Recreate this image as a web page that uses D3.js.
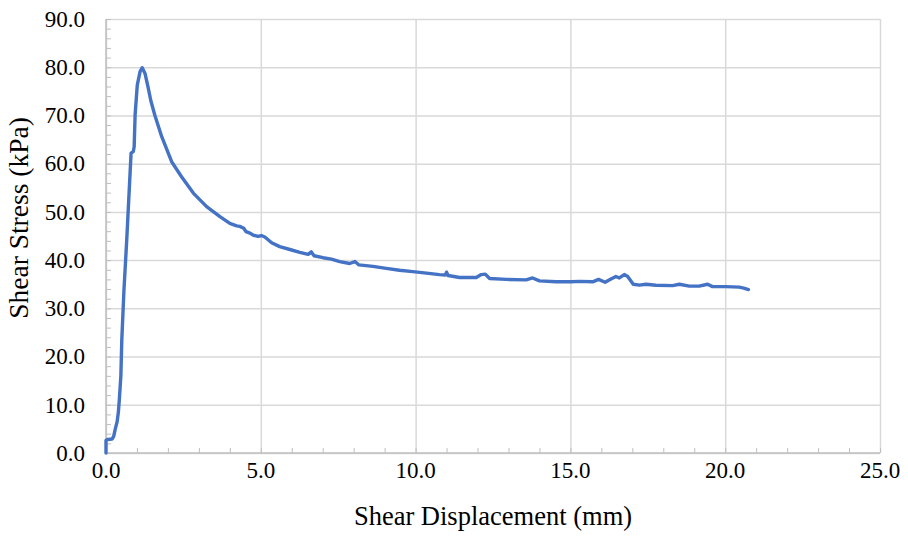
<!DOCTYPE html>
<html>
<head>
<meta charset="utf-8">
<script src="https://cdn.jsdelivr.net/npm/d3@7"></script>
</head>
<body style="margin:0;background:#fff">
<svg id="chart" width="908" height="538" font-family="Liberation Serif"></svg>
<script>
// Direct shear test: shear displacement (mm) vs shear stress (kPa)
const displacement = [
  0.00, 0.00, 0.05, 0.20, 0.25, 0.30, 0.36, 0.40, 0.43, 0.48,
  0.51, 0.58, 0.67, 0.75, 0.81, 0.88, 0.91, 0.94, 1.01, 1.10,
  1.17, 1.26, 1.36, 1.45, 1.58, 1.80, 2.12, 2.44, 2.82, 3.25,
  3.68, 4.00, 4.22, 4.32, 4.45, 4.52, 4.65, 4.75, 4.91, 5.02,
  5.13, 5.35, 5.61, 5.94, 6.26, 6.53, 6.63, 6.72, 7.01, 7.28,
  7.55, 7.87, 8.04, 8.17, 8.62, 9.05, 9.48, 9.91, 10.35, 10.77,
  10.96, 11.00, 11.05, 11.42, 11.96, 12.12, 12.25, 12.39, 12.93, 13.57,
  13.78, 14.00, 14.54, 15.02, 15.30, 15.72, 15.91, 16.12, 16.31, 16.47,
  16.58, 16.74, 16.85, 17.03, 17.23, 17.44, 17.76, 18.30, 18.52, 18.84,
  19.16, 19.43, 19.59, 20.02, 20.45, 20.60, 20.75
];
const shearStress = [
  0.0, 2.6, 2.8, 2.9, 3.5, 5.0, 6.5, 8.5, 11.0, 16.0,
  23.4, 33.8, 44.2, 54.5, 62.2, 62.5, 63.5, 70.1, 76.3, 79.1,
  79.9, 78.7, 75.8, 73.0, 70.0, 65.6, 60.4, 57.3, 53.9, 51.1,
  49.0, 47.6, 47.1, 47.0, 46.6, 45.9, 45.6, 45.2, 44.9, 45.1,
  44.8, 43.6, 42.8, 42.2, 41.6, 41.2, 41.7, 40.9, 40.5, 40.2,
  39.7, 39.3, 39.7, 39.0, 38.7, 38.3, 37.9, 37.6, 37.3, 37.0,
  36.9, 37.5, 36.8, 36.4, 36.4, 37.0, 37.1, 36.2, 36.0, 35.9,
  36.3, 35.7, 35.5, 35.5, 35.6, 35.5, 36.0, 35.4, 36.1, 36.6,
  36.3, 37.0, 36.6, 35.0, 34.8, 35.0, 34.8, 34.7, 35.0, 34.6,
  34.6, 35.0, 34.5, 34.5, 34.4, 34.2, 33.9
];
const xTicks = [0, 5, 10, 15, 20, 25];
const yTicks = [0, 10, 20, 30, 40, 50, 60, 70, 80, 90];
const xTitle = "Shear Displacement (mm)";
const yTitle = "Shear Stress (kPa)";

const FONT = "Liberation Serif";
const fmt = d3.format(".1f");
const svg = d3.select("#chart");
const plotLeft = 106, plotRight = 880, plotTop = 19, plotBottom = 453;

const x = d3.scaleLinear().domain([0, 25]).range([plotLeft, plotRight]);
const y = d3.scaleLinear().domain([0, 90]).range([plotBottom, plotTop]);

// Major gridlines
svg.append("g")
  .attr("transform", `translate(0,${plotBottom})`)
  .call(d3.axisBottom(x).tickValues(xTicks).tickSize(-(plotBottom - plotTop)).tickFormat(""))
  .call(g => g.select(".domain").remove())
  .call(g => g.selectAll("line").attr("stroke", "#d9d9d9").attr("stroke-width", 1.5));
svg.append("g")
  .attr("transform", `translate(${plotLeft},0)`)
  .call(d3.axisLeft(y).tickValues(yTicks).tickSize(-(plotRight - plotLeft)).tickFormat(""))
  .call(g => g.select(".domain").remove())
  .call(g => g.selectAll("line").attr("stroke", "#d9d9d9").attr("stroke-width", 1.5));

// Minor tick marks (inside the plot area)
svg.append("g")
  .attr("transform", `translate(0,${plotBottom})`)
  .call(d3.axisBottom(x).tickValues(d3.range(0, 26, 1)).tickSize(-5).tickFormat(""))
  .call(g => g.select(".domain").remove())
  .call(g => g.selectAll("line").attr("stroke", "#bfbfbf").attr("stroke-width", 1));
svg.append("g")
  .attr("transform", `translate(${plotLeft},0)`)
  .call(d3.axisLeft(y).tickValues(d3.range(0, 91, 2)).tickSize(-5).tickFormat(""))
  .call(g => g.select(".domain").remove())
  .call(g => g.selectAll("line").attr("stroke", "#bfbfbf").attr("stroke-width", 1));

// Axis lines
svg.append("line")
  .attr("x1", plotLeft).attr("x2", plotRight)
  .attr("y1", y(0)).attr("y2", y(0))
  .attr("stroke", "#bfbfbf").attr("stroke-width", 1.5);
svg.append("line")
  .attr("x1", x(0)).attr("x2", x(0))
  .attr("y1", plotTop).attr("y2", plotBottom)
  .attr("stroke", "#bfbfbf").attr("stroke-width", 1.5);

// Tick labels
svg.append("g")
  .selectAll("text")
  .data(xTicks)
  .join("text")
  .attr("x", d => x(d))
  .attr("y", plotBottom + 25)
  .attr("text-anchor", "middle")
  .attr("font-family", FONT)
  .attr("font-size", 23)
  .attr("fill", "#000")
  .style("font-family", FONT)
  .text(d => fmt(d));

svg.append("g")
  .selectAll("text")
  .data(yTicks)
  .join("text")
  .attr("x", plotLeft - 21)
  .attr("y", d => y(d))
  .attr("dy", "0.34em")
  .attr("text-anchor", "end")
  .attr("font-family", FONT)
  .attr("font-size", 23)
  .attr("fill", "#000")
  .style("font-family", FONT)
  .text(d => fmt(d));

// Data line
const pts = displacement.map((d, i) => [d, shearStress[i]]);
svg.append("path")
  .datum(pts)
  .attr("fill", "none")
  .attr("stroke", "#4472C4")
  .attr("stroke-width", 3.4)
  .attr("stroke-linejoin", "round")
  .attr("stroke-linecap", "round")
  .attr("d", d3.line().x(d => x(d[0])).y(d => y(d[1])));

// Axis titles
svg.append("text")
  .attr("x", (plotLeft + plotRight) / 2)
  .attr("y", 525)
  .attr("text-anchor", "middle")
  .attr("font-family", FONT)
  .attr("font-size", 26.5)
  .attr("fill", "#000")
  .text(xTitle);

svg.append("text")
  .attr("transform", "translate(28,218) rotate(-90)")
  .attr("text-anchor", "middle")
  .attr("font-family", FONT)
  .attr("font-size", 27.5)
  .attr("fill", "#000")
  .text(yTitle);
</script>
</body>
</html>
